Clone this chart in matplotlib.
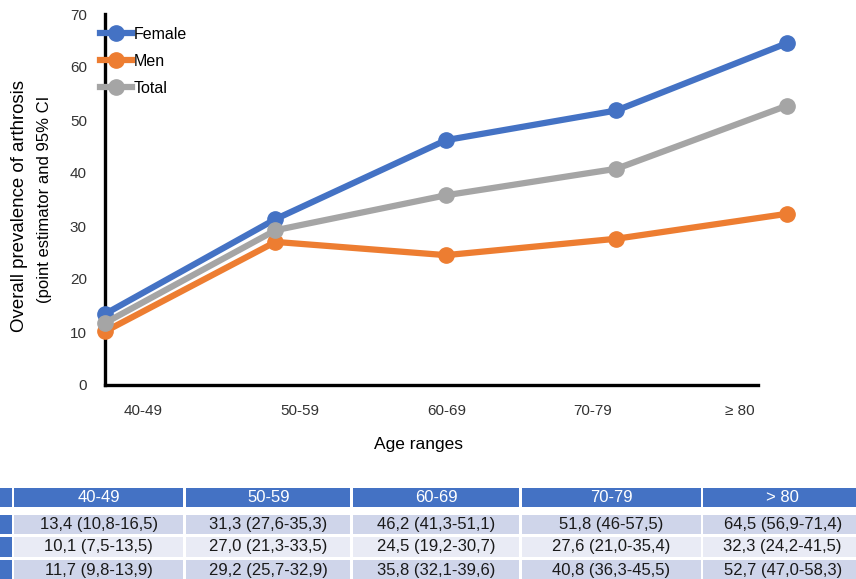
import matplotlib.pyplot as plt
from matplotlib.patches import Rectangle

plt.rcParams['font.family'] = ['Liberation Sans', 'DejaVu Sans']

# age groups and prevalence (point estimates)
ages = ['40-49', '50-59', '60-69', '70-79', '≥ 80']
female = [13.4, 31.3, 46.2, 51.8, 64.5]
men = [10.1, 27.0, 24.5, 27.6, 32.3]
total = [11.7, 29.2, 35.8, 40.8, 52.7]

# table below the chart
table_header = ['40-49', '50-59', '60-69', '70-79', '> 80']
table_female = ['13,4 (10,8-16,5)', '31,3 (27,6-35,3)', '46,2 (41,3-51,1)', '51,8 (46-57,5)', '64,5 (56,9-71,4)']
table_men = ['10,1 (7,5-13,5)', '27,0 (21,3-33,5)', '24,5 (19,2-30,7)', '27,6 (21,0-35,4)', '32,3 (24,2-41,5)']
table_total = ['11,7 (9,8-13,9)', '29,2 (25,7-32,9)', '35,8 (32,1-39,6)', '40,8 (36,3-45,5)', '52,7 (47,0-58,3)']

W, H = 856, 579
fig = plt.figure(figsize=(W / 100, H / 100), dpi=100)

# --- line chart ---
ax = fig.add_axes([105 / W, 1 - 385 / H, 653 / W, 371 / H])
x = range(len(ages))
colors = {'Female': '#4472C4', 'Men': '#ED7D31', 'Total': '#A5A5A5'}
for name, vals in [('Female', female), ('Men', men), ('Total', total)]:
    ax.plot(x, vals, color=colors[name], lw=4.5, marker='o', ms=11,
            label=name, clip_on=False, zorder=5)

ax.set_xlim(0, 3.83)
ax.set_ylim(0, 70)
ax.set_yticks(range(0, 71, 10))
# labels sit slightly apart from the points in the original layout
ax.set_xticks([0.223, 1.144, 2.006, 2.862, 3.724])
ax.set_xticklabels(ages)
ax.tick_params(length=0, labelsize=11, colors='#333333')
ax.tick_params(axis='x', pad=14)
ax.tick_params(axis='y', pad=13)
for s in ['top', 'right']:
    ax.spines[s].set_visible(False)
for s in ['left', 'bottom']:
    ax.spines[s].set_linewidth(2.4)
    ax.spines[s].set_color('black')

ax.set_xlabel('Age ranges', fontsize=12.5, labelpad=13, x=0.48)
# y label: two lines of slightly different size, as in the original
fig.text(20 / W, 1 - 206 / H, 'Overall prevalence of arthrosis',
         rotation=90, ha='center', va='center', fontsize=13.4)
fig.text(45 / W, 1 - 199 / H, '(point estimator and 95% CI',
         rotation=90, ha='center', va='center', fontsize=12)

ax.legend(loc='upper left', bbox_to_anchor=(100 / W, 1 - 27 / H),
          bbox_transform=fig.transFigure, frameon=False, fontsize=11.5,
          borderpad=0, borderaxespad=0, handlelength=2.0, handletextpad=0.1,
          labelspacing=0.75)

# --- table ---
tax = fig.add_axes([0, 0, 1, 1], zorder=-1)
tax.set_xlim(0, W)
tax.set_ylim(H, 0)
tax.axis('off')

col_edges = [(14.5, 183), (186, 350.5), (353.5, 519), (522, 701), (703.5, 862)]
rows = [
    (488, 507, '#4472C4', 'white', table_header),
    (515, 534, '#CFD5EA', '#1a1a1a', table_female),
    (537, 557, '#E9EBF5', '#1a1a1a', table_men),
    (560, 585, '#CFD5EA', '#1a1a1a', table_total),
]
for y0, y1, fc, tc, cells in rows:
    tax.add_patch(Rectangle((-5, y0), 17, y1 - y0, color='#4472C4', lw=0))
    for (x0, x1), txt in zip(col_edges, cells):
        tax.add_patch(Rectangle((x0, y0), x1 - x0, y1 - y0, color=fc, lw=0))
        cy = (y0 + y1) / 2 if y1 < H else y0 + 10
        tax.text((x0 + x1) / 2, cy, txt, ha='center', va='center',
                 fontsize=12, color=tc)

fig.savefig('out.png', dpi=100)
